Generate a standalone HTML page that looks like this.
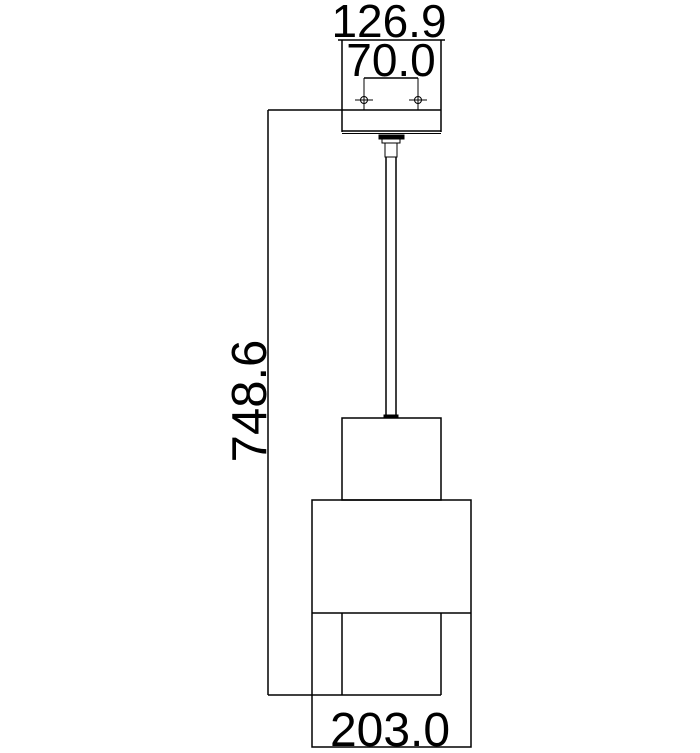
<!DOCTYPE html>
<html><head><style>
body{margin:0;background:#fff;}
svg{display:block}
text{font-family:"Liberation Sans",sans-serif;fill:#000}
</style></head><body>
<svg width="700" height="753" viewBox="0 0 700 753" xmlns="http://www.w3.org/2000/svg">
<g stroke="#000" stroke-width="1.5" fill="none">
<line x1="338" y1="40" x2="445" y2="40"/>
<line x1="342" y1="40" x2="342" y2="132"/>
<line x1="441" y1="40" x2="441" y2="132"/>
<line x1="342" y1="131" x2="441" y2="131"/>
<line x1="342" y1="133.5" x2="441" y2="133.5" stroke-width="1"/>
<line x1="364" y1="78" x2="418" y2="78"/>
<line x1="364" y1="78" x2="364" y2="110" stroke-width="1"/>
<line x1="418" y1="78" x2="418" y2="110" stroke-width="1"/>
<circle cx="364" cy="100" r="3.5" stroke-width="1"/>
<circle cx="418" cy="100" r="3.5" stroke-width="1"/>
<line x1="355" y1="100" x2="373" y2="100" stroke-width="1"/>
<line x1="409" y1="100" x2="427" y2="100" stroke-width="1"/>
<line x1="268" y1="110" x2="441" y2="110"/>
<line x1="268" y1="110" x2="268" y2="695"/>
<line x1="268" y1="695" x2="441" y2="695"/>
<rect x="379" y="135" width="25" height="4" fill="#000" stroke-width="1"/>
<rect x="382" y="139" width="18" height="4" stroke-width="1"/>
<rect x="385" y="143" width="12" height="14" stroke-width="1"/>
<line x1="386" y1="157" x2="386" y2="418"/>
<line x1="396" y1="157" x2="396" y2="418"/>
<rect x="384" y="415" width="14" height="3" fill="#000" stroke-width="1"/>
<rect x="342" y="418" width="99" height="82"/>
<rect x="312" y="500" width="159" height="247"/>
<line x1="312" y1="613" x2="471" y2="613"/>
<line x1="342" y1="613" x2="342" y2="695"/>
<line x1="441" y1="613" x2="441" y2="695"/>
</g>
<text x="389" y="37" font-size="46" text-anchor="middle">126.9</text>
<text x="391" y="76" font-size="46" text-anchor="middle">70.0</text>
<text x="390" y="746" font-size="48" text-anchor="middle">203.0</text>
<text transform="translate(266,401) rotate(-90)" font-size="49" text-anchor="middle">748.6</text>
</svg>
</body></html>
